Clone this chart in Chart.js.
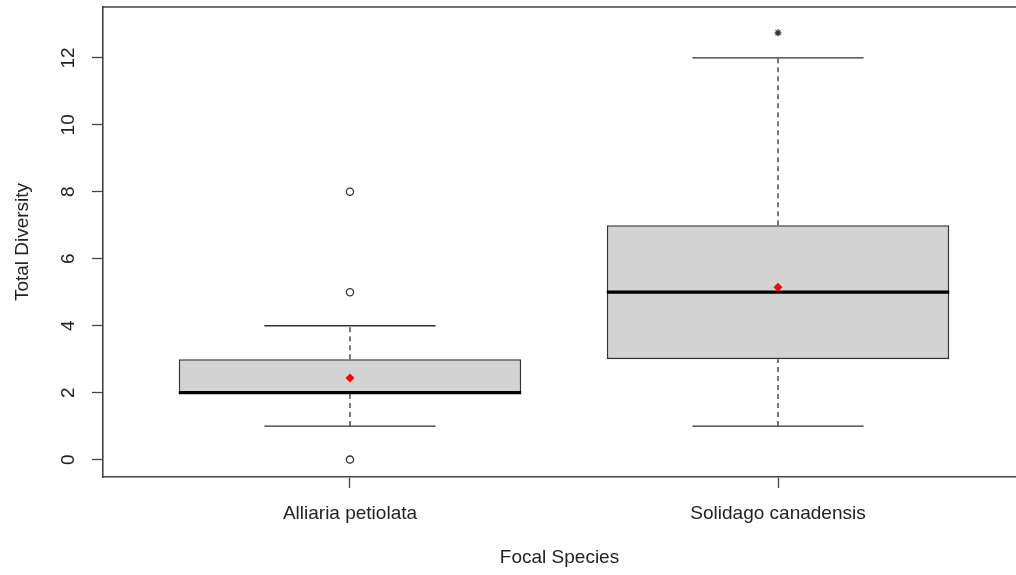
<!DOCTYPE html>
<html>
<head>
<meta charset="utf-8">
<title>Total Diversity by Focal Species</title>
<script src="https://cdn.jsdelivr.net/npm/chart.js@4.4.1/dist/chart.umd.min.js"></script>
<style>
  html, body { margin: 0; padding: 0; background: #fff; }
  canvas { display: block; }
</style>
</head>
<body>
<canvas id="diversityChart" width="1016" height="575"></canvas>
<script>
// box plot summaries, one entry per focal species
const species = ['Alliaria petiolata', 'Solidago canadensis'];
const whiskerLow = [1, 1];
const q1 = [2, 3];
const medians = [2, 5];
const q3 = [3, 7];
const whiskerHigh = [4, 12];
const means = [2.44, 5.15];
const outliers = [[0, 5, 8], []];
const farOutliers = [[], [12.75]];
const yTicks = [0, 2, 4, 6, 8, 10, 12];

const boxWidth = 0.8;   // in x units, same as barPercentage
const capWidth = 0.4;
const axisColor = '#444';
const textColor = '#222';
const fontFamily = "'Liberation Sans', Arial, sans-serif";

const xOf = (i) => i + 1;

// turns [x0, y0, x1, y1] pairs into one line dataset with gaps between segments
const segments = (pairs) => pairs.flatMap(([x0, y0, x1, y1]) => [
    { x: x0, y: y0 }, { x: x1, y: y1 }, { x: x1, y: null }
]);

const whiskerLines = segments(species.flatMap((_, i) => [
    [xOf(i), q3[i], xOf(i), whiskerHigh[i]],
    [xOf(i), whiskerLow[i], xOf(i), q1[i]],
]));
const capLines = segments(species.flatMap((_, i) => [
    [xOf(i) - capWidth / 2, whiskerHigh[i], xOf(i) + capWidth / 2, whiskerHigh[i]],
    [xOf(i) - capWidth / 2, whiskerLow[i], xOf(i) + capWidth / 2, whiskerLow[i]],
]));
const medianLines = segments(species.map((_, i) =>
    [xOf(i) - boxWidth / 2, medians[i], xOf(i) + boxWidth / 2, medians[i]]));

const outlierPoints = outliers.flatMap((vals, i) => vals.map(v => ({ x: xOf(i), y: v })));
const farPoints = farOutliers.flatMap((vals, i) => vals.map(v => ({ x: xOf(i), y: v })));
const meanPoints = means.map((m, i) => ({ x: xOf(i), y: m }));

// R style frame: line along the top of the plot area
const frameTop = {
    id: 'frameTop',
    afterDraw(chart) {
        const { ctx, chartArea: a } = chart;
        ctx.save();
        ctx.strokeStyle = axisColor;
        ctx.lineWidth = 1.6;
        ctx.beginPath();
        ctx.moveTo(a.left, a.top);
        ctx.lineTo(a.right, a.top);
        ctx.stroke();
        ctx.restore();
    }
};

const ctx = document.getElementById('diversityChart');
new Chart(ctx, {
    type: 'bar',
    data: {
        datasets: [
            {
                type: 'scatter',
                data: meanPoints,
                pointStyle: 'rectRot',
                pointRadius: 4.5,
                backgroundColor: '#ff0000',
                borderColor: '#ff0000',
                borderWidth: 0,
                order: 0,
            },
            {
                type: 'scatter',
                data: outlierPoints,
                pointStyle: 'circle',
                pointRadius: 3.6,
                backgroundColor: 'rgba(0,0,0,0)',
                borderColor: '#333',
                borderWidth: 1.3,
                order: 0,
            },
            {
                type: 'scatter',
                data: farPoints,
                pointStyle: 'star',
                pointRadius: 3.5,
                borderColor: '#333',
                borderWidth: 1.3,
                order: 0,
            },
            {
                type: 'line',
                data: medianLines,
                borderColor: '#000',
                borderWidth: 3.2,
                pointRadius: 0,
                spanGaps: false,
                order: 1,
            },
            {
                type: 'line',
                data: whiskerLines,
                borderColor: '#333',
                borderWidth: 1.3,
                borderDash: [5, 4],
                pointRadius: 0,
                spanGaps: false,
                order: 2,
            },
            {
                type: 'line',
                data: capLines,
                borderColor: '#333',
                borderWidth: 1.4,
                pointRadius: 0,
                spanGaps: false,
                order: 2,
            },
            {
                type: 'bar',
                data: species.map((_, i) => ({ x: xOf(i), y: [q1[i], q3[i]] })),
                backgroundColor: '#d3d3d3',
                borderColor: '#333',
                borderWidth: 1.6,
                borderSkipped: false,
                barPercentage: boxWidth,
                categoryPercentage: 1,
                order: 10,
            },
        ],
    },
    options: {
        responsive: false,
        animation: false,
        layout: {
            autoPadding: false,
            padding: { top: 7, right: 0, bottom: 0, left: 0 },
        },
        plugins: {
            legend: { display: false },
            tooltip: { enabled: false },
        },
        scales: {
            x: {
                type: 'linear',
                min: 0.423,
                max: 2.556,
                offset: false,
                afterFit: (scale) => {
                    scale.height = 98;
                    scale.paddingLeft = 0;
                    scale.paddingRight = 0;
                },
                afterBuildTicks: (scale) => {
                    scale.ticks = species.map((_, i) => ({ value: xOf(i) }));
                },
                ticks: {
                    callback: (v) => species[v - 1],
                    color: textColor,
                    font: { family: fontFamily, size: 19 },
                    padding: 14,
                    maxRotation: 0,
                    autoSkip: false,
                },
                grid: {
                    offset: false,
                    drawOnChartArea: false,
                    drawTicks: true,
                    tickLength: 11,
                    tickColor: axisColor,
                    tickWidth: 1.3,
                },
                border: { display: true, color: axisColor, width: 1.6 },
                title: {
                    display: true,
                    text: 'Focal Species',
                    color: textColor,
                    font: { family: fontFamily, size: 19 },
                    padding: { top: 0, bottom: 6 },
                },
            },
            y: {
                type: 'linear',
                min: -0.52,
                max: 13.52,
                afterFit: (scale) => {
                    scale.width = 103;
                    scale.paddingTop = 0;
                    scale.paddingBottom = 0;
                },
                afterBuildTicks: (scale) => {
                    scale.ticks = yTicks.map(v => ({ value: v }));
                },
                ticks: {
                    callback: (v) => String(v),
                    color: textColor,
                    font: { family: fontFamily, size: 19 },
                    minRotation: 90,
                    maxRotation: 90,
                    crossAlign: 'center',
                    padding: 13,
                    autoSkip: false,
                },
                grid: {
                    drawOnChartArea: false,
                    drawTicks: true,
                    tickLength: 11,
                    tickColor: axisColor,
                    tickWidth: 1.3,
                },
                border: { display: true, color: axisColor, width: 1.6 },
                title: {
                    display: true,
                    text: 'Total Diversity',
                    color: textColor,
                    font: { family: fontFamily, size: 19 },
                    padding: { top: 11, bottom: 0 },
                },
            },
        },
    },
    plugins: [frameTop],
});
</script>
</body>
</html>
